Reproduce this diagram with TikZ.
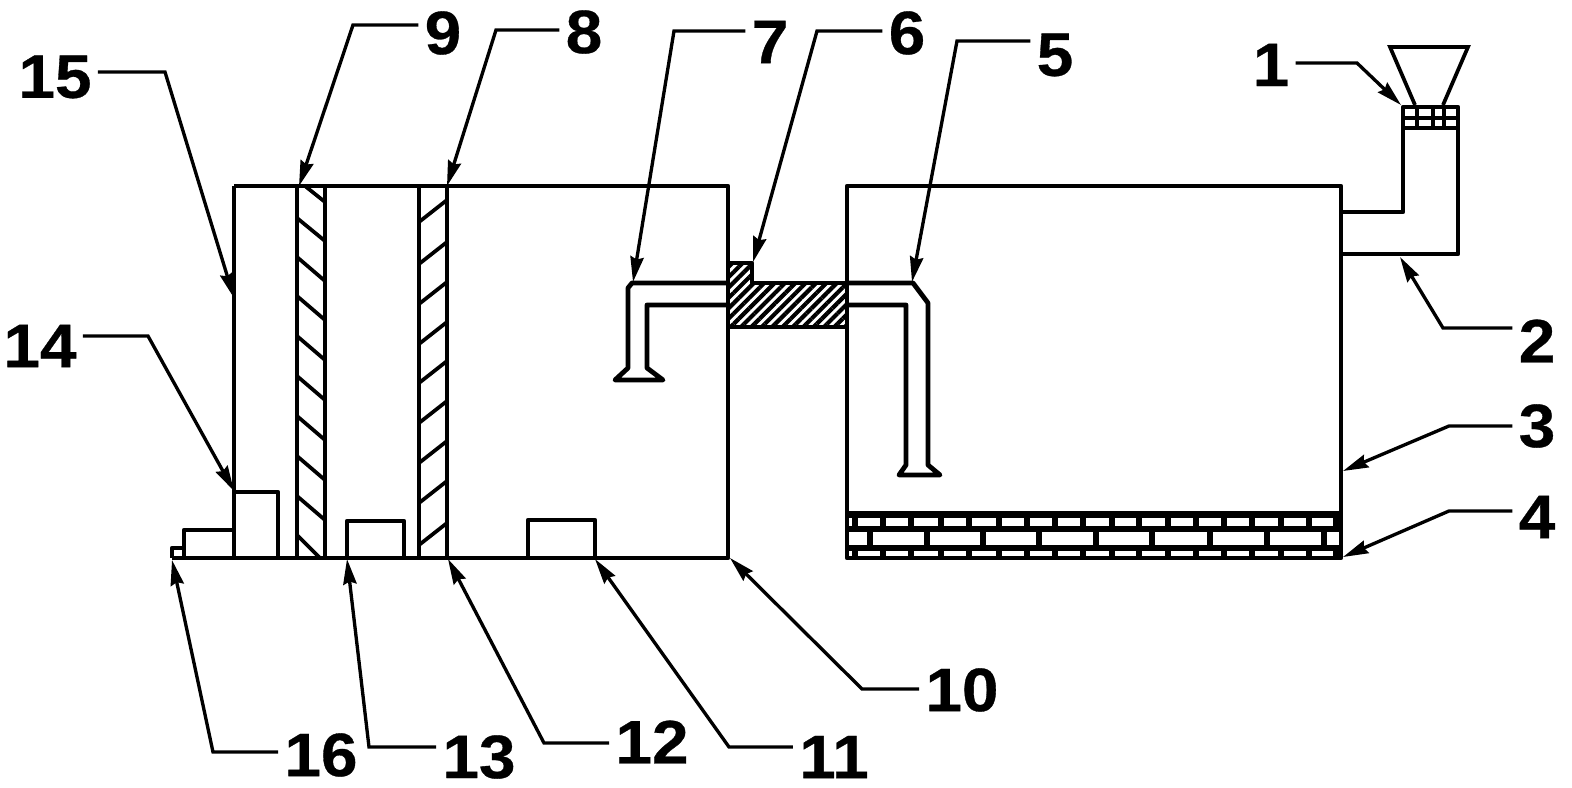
\documentclass[tikz,border=0pt]{standalone}
\usepackage{fontspec}
\setmainfont{Liberation Sans}
\usetikzlibrary{arrows.meta,patterns.meta}
\tikzset{
	every picture/.style={line width=3.6pt},
	wall/.style={line width=3.6pt,line join=round},
	brick/.style={line width=5.2pt},
	hatch/.style={line width=2.8pt},
	leader/.style={line width=2.5pt,-{Stealth[length=19pt,width=10pt,inset=2pt]}},
	num/.style={font=\bfseries\addfontfeatures{FakeStretch=1.07,FakeBold=0.5}\fontsize{46}{46}\selectfont,inner sep=3pt}
}

\begin{document}
\begin{tikzpicture}[x=0.75pt,y=0.75pt,yscale=-1,xscale=1]
	\useasboundingbox (0,0) rectangle (1572,788);

	%Hatched block
	\draw [wall,pattern={Lines[angle=45,distance=5.5pt,line width=3.1pt]}] (728,283) -- (728,263) -- (752,263) -- (752,283) -- (847,283) -- (847,327) -- (728,327) -- cycle ;

	%Shape: Rectangle, left tank
	\draw [wall] (234,186) -- (728,186) -- (728,558) -- (172,558) ;
	\draw [wall] (234,186) -- (234,558) ;
	%Shape: Rectangle, right tank
	\draw [wall] (847,186) -- (1341,186) -- (1341,558) -- (847,558) -- cycle ;

	%Brick layer
	\draw [brick] (847,514.5) -- (1341,514.5) (847,529) -- (1341,529) (847,548) -- (1341,548) ;
	\draw [brick] (855,514) -- (855,529) (883,514) -- (883,529) (911,514) -- (911,529) (941,514) -- (941,529) (969,514) -- (969,529) (999,514) -- (999,529) (1027,514) -- (1027,529) (1055,514) -- (1055,529) (1083,514) -- (1083,529) (1112,514) -- (1112,529) (1139,514) -- (1139,529) (1168,514) -- (1168,529) (1196,514) -- (1196,529) (1224,514) -- (1224,529) (1252,514) -- (1252,529) (1281,514) -- (1281,529) (1309,514) -- (1309,529) (1336,514) -- (1336,529) ;
	\draw [brick] (870,529) -- (870,548) (927,529) -- (927,548) (983,529) -- (983,548) (1039,529) -- (1039,548) (1096,529) -- (1096,548) (1152,529) -- (1152,548) (1210,529) -- (1210,548) (1267,529) -- (1267,548) (1324,529) -- (1324,548) ;
	\draw [brick] (855,548) -- (855,558) (883,548) -- (883,558) (911,548) -- (911,558) (941,548) -- (941,558) (969,548) -- (969,558) (999,548) -- (999,558) (1027,548) -- (1027,558) (1055,548) -- (1055,558) (1083,548) -- (1083,558) (1112,548) -- (1112,558) (1139,548) -- (1139,558) (1168,548) -- (1168,558) (1196,548) -- (1196,558) (1224,548) -- (1224,558) (1252,548) -- (1252,558) (1281,548) -- (1281,558) (1309,548) -- (1309,558) (1336,548) -- (1336,558) ;

	%Filter wall 9
	\draw [wall] (297,186) -- (297,558) (325,186) -- (325,558) ;
	\draw [hatch] (305,186) -- (325,202) (297,218) -- (325,241) (297,257) -- (325,281) (297,296) -- (325,320) (297,336) -- (325,360) (297,376) -- (325,400) (297,416) -- (325,440) (297,456) -- (325,480) (297,496) -- (325,520) (297,535) -- (320,558) ;
	%Filter wall 8
	\draw [wall] (419,186) -- (419,558) (447,186) -- (447,558) ;
	\draw [hatch] (419,222) -- (447,200) (419,264) -- (447,242) (419,304) -- (447,282) (419,344) -- (447,322) (419,383) -- (447,361) (419,423) -- (447,401) (419,463) -- (447,441) (419,503) -- (447,481) (419,545) -- (447,523) ;

	%Bottom boxes
	\draw [wall] (172,558) -- (172,548) -- (184,548) ;
	\draw [wall] (184,558) -- (184,530) -- (234,530) ;
	\draw [wall] (234,492) -- (278,492) -- (278,558) ;
	\draw [wall] (347,558) -- (347,521) -- (404,521) -- (404,558) ;
	\draw [wall] (528,558) -- (528,520) -- (595,520) -- (595,558) ;

	%Left pipe
	\draw [wall] (728,283) -- (632,283) -- (628,288) -- (628,368) -- (615,380) -- (663,380) -- (647,368) -- (647,305) -- (728,305) ;
	%Right pipe
	\draw [wall] (847,283) -- (913,283) -- (928,303) -- (928,465) -- (940,475) -- (899,475) -- (906,465) -- (906,305) -- (847,305) ;

	%Feed pipe and hopper
	\draw [wall] (1341,212) -- (1403,212) -- (1403,107) -- (1458,107) -- (1458,254) -- (1341,254) ;
	\draw [hatch] (1403,118) -- (1458,118) ;
	\draw [wall] (1403,128) -- (1458,128) ;
	\draw [hatch] (1417,107) -- (1417,128) (1433,107) -- (1433,128) (1444,107) -- (1444,128) ;
	\draw [hatch] (1415,105) -- (1390,47) -- (1468,47) -- (1443,105) ;

	% Text Node
	\node [num] (n1) at (1271,65) {1};
	\node [num] (n2) at (1537,341) {2};
	\node [num] (n3) at (1537,426) {3};
	\node [num] (n4) at (1537,517) {4};
	\node [num] (n5) at (1055,55) {5};
	\node [num] (n6) at (907,33) {6};
	\node [num] (n7) at (770,42) {7};
	\node [num] (n8) at (584,32) {8};
	\node [num] (n9) at (443,33) {9};
	\node [num] (n10) at (962,690) {10};
	\node [num] (n11) at (834,757) {11};
	\node [num] (n12) at (652,742) {12};
	\node [num] (n13) at (479,757) {13};
	\node [num] (n14) at (40,346) {14};
	\node [num] (n15) at (55,77) {15};
	\node [num] (n16) at (321,755) {16};

	%Leader bends
	\coordinate (e1) at (1357,63);
	\coordinate (t1) at (1401,105);
	\coordinate (e2) at (1443,328);
	\coordinate (t2) at (1400,257);
	\coordinate (e3) at (1449,426);
	\coordinate (t3) at (1343,471);
	\coordinate (e4) at (1449,511);
	\coordinate (t4) at (1343,557);
	\coordinate (e5) at (957,41);
	\coordinate (t5) at (912,282);
	\coordinate (e6) at (817,31);
	\coordinate (t6) at (753,262);
	\coordinate (e7) at (674,31);
	\coordinate (t7) at (633,282);
	\coordinate (e8) at (496,30);
	\coordinate (t8) at (447,186);
	\coordinate (e9) at (353,25);
	\coordinate (t9) at (299,186);
	\coordinate (e10) at (862,689);
	\coordinate (t10) at (730,558);
	\coordinate (e11) at (729,747);
	\coordinate (t11) at (595,559);
	\coordinate (e12) at (544,743);
	\coordinate (t12) at (448,559);
	\coordinate (e13) at (369,747);
	\coordinate (t13) at (347,559);
	\coordinate (e14) at (148,336);
	\coordinate (t14) at (234,491);
	\coordinate (e15) at (165,72);
	\coordinate (t15) at (234,298);
	\coordinate (e16) at (213,752);
	\coordinate (t16) at (172,560);

	%Leaders
	\draw [leader] (n1.east |- e1) -- (e1) -- (t1) ;
	\draw [leader] (n2.west |- e2) -- (e2) -- (t2) ;
	\draw [leader] (n3.west |- e3) -- (e3) -- (t3) ;
	\draw [leader] (n4.west |- e4) -- (e4) -- (t4) ;
	\draw [leader] (n5.west |- e5) -- (e5) -- (t5) ;
	\draw [leader] (n6.west |- e6) -- (e6) -- (t6) ;
	\draw [leader] (n7.west |- e7) -- (e7) -- (t7) ;
	\draw [leader] (n8.west |- e8) -- (e8) -- (t8) ;
	\draw [leader] (n9.west |- e9) -- (e9) -- (t9) ;
	\draw [leader] (n10.west |- e10) -- (e10) -- (t10) ;
	\draw [leader] (n11.west |- e11) -- (e11) -- (t11) ;
	\draw [leader] (n12.west |- e12) -- (e12) -- (t12) ;
	\draw [leader] (n13.west |- e13) -- (e13) -- (t13) ;
	\draw [leader] (n14.east |- e14) -- (e14) -- (t14) ;
	\draw [leader] (n15.east |- e15) -- (e15) -- (t15) ;
	\draw [leader] (n16.west |- e16) -- (e16) -- (t16) ;

\end{tikzpicture}
\end{document}
